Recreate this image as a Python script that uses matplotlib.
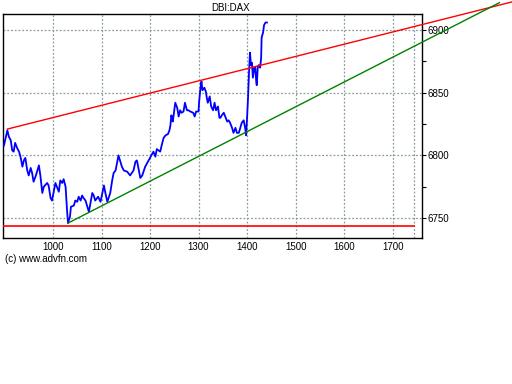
import matplotlib
matplotlib.use('Agg')
import matplotlib.pyplot as plt
import numpy as np
from matplotlib.ticker import MultipleLocator

# price series (bar index, price)
bar_index = [899, 906, 909, 913, 916, 919, 922, 926, 930, 933, 937, 940, 943, 947, 950,
             954, 957, 960, 964, 968, 971, 974, 978, 981, 988, 991, 995, 998, 1002, 1005,
             1009, 1012, 1015, 1019, 1022, 1026, 1029, 1031, 1035, 1037, 1043, 1046, 1050,
             1053, 1057, 1060, 1063, 1067, 1074, 1081, 1084, 1087, 1093, 1098, 1105, 1108,
             1112, 1118, 1122, 1125, 1129, 1132, 1135, 1139, 1142, 1146, 1153, 1159, 1166,
             1170, 1173, 1177, 1180, 1184, 1190, 1197, 1201, 1207, 1211, 1214, 1221, 1224,
             1228, 1232, 1237, 1240, 1242, 1244, 1246, 1247, 1252, 1256, 1259, 1262, 1265,
             1269, 1272, 1276, 1279, 1283, 1289, 1292, 1295, 1300, 1301, 1304, 1306, 1308,
             1312, 1315, 1317, 1319, 1323, 1326, 1330, 1333, 1336, 1340, 1343, 1345, 1348,
             1352, 1355, 1359, 1362, 1365, 1369, 1372, 1376, 1379, 1383, 1386, 1389, 1393,
             1396, 1398, 1400, 1402, 1404, 1406, 1408, 1410, 1412, 1415, 1417, 1419, 1420,
             1422, 1424, 1427, 1429, 1430, 1433, 1435, 1438, 1441]
price = [6808, 6820, 6815, 6812, 6804, 6803, 6810, 6806, 6803, 6799, 6791, 6796, 6798, 6788, 6784,
         6790, 6786, 6779, 6783, 6788, 6792, 6784, 6770, 6775, 6778, 6776, 6766, 6764, 6772, 6778,
         6774, 6771, 6780, 6778, 6781, 6775, 6756, 6746, 6751, 6759, 6760, 6764, 6763,
         6767, 6764, 6768, 6766, 6764, 6755, 6770, 6768, 6764, 6767, 6763, 6776, 6770,
         6763, 6770, 6780, 6786, 6788, 6794, 6800, 6795, 6791, 6788, 6787, 6784, 6788,
         6795, 6796, 6788, 6782, 6784, 6791, 6796, 6799, 6803, 6799, 6805, 6803, 6808,
         6814, 6816, 6817, 6820, 6824, 6832, 6828, 6827, 6842, 6838, 6831, 6836, 6834,
         6835, 6842, 6836, 6836, 6835, 6834, 6831, 6835, 6835, 6842, 6854, 6859, 6852,
         6854, 6851, 6846, 6842, 6847, 6839, 6836, 6842, 6836, 6839, 6830, 6830, 6832,
         6834, 6831, 6827, 6828, 6826, 6822, 6818, 6822, 6818, 6818, 6822, 6826, 6828,
         6822, 6816, 6830, 6846, 6866, 6882, 6872, 6874, 6862, 6870, 6870, 6858, 6856,
         6870, 6872, 6870, 6878, 6894, 6898, 6904, 6906, 6906]

# trend lines drawn on the chart
resist_x = [906, 2000]
resist_y = [6821, 6927.7]
support_x = [1031, 1920]
support_y = [6746, 6921.8]
floor_level = 6743.6
last_bar = 1745

fig = plt.figure(figsize=(5.12, 3.84), dpi=100)
ax = fig.add_axes([3 / 512, 1 - 238 / 384, 419 / 512, 224 / 384])

grid_kw = dict(color='#8c9c9c', linestyle=(0, (1.5, 1.5)), linewidth=0.9)
ax.grid(True, **grid_kw)
ax.axvline(last_bar, **grid_kw)

ax.plot(bar_index, price, color='#0000ff', linewidth=1.3, zorder=3)
ax.plot(resist_x, resist_y, color='#ff0000', linewidth=1, clip_on=False, zorder=4)
ax.plot(support_x, support_y, color='#008000', linewidth=1, clip_on=False, zorder=4)
ax.plot([897, last_bar], [floor_level, floor_level], color='#ff0000', linewidth=1.2, zorder=4)

ax.set_xlim(897, 1760.5)
ax.set_ylim(6734.1, 6912.8)
ax.set_xticks(np.arange(1000, 1701, 100))
ax.yaxis.set_major_locator(MultipleLocator(50))
ax.yaxis.set_minor_locator(MultipleLocator(25))
ax.yaxis.tick_right()
ax.tick_params(axis='x', length=0, pad=3, labelsize=7)
ax.tick_params(axis='y', which='both', direction='out', length=3, width=0.8, pad=1, labelsize=7)
ax.yaxis.grid(True, which='minor', linestyle='none')
for lab in ax.get_xticklabels() + ax.get_yticklabels():
    lab.set_family('Liberation Sans')
for sp in ax.spines.values():
    sp.set_linewidth(1)

fig.text(231 / 512, 1 - 8 / 384, 'DBI:DAX', ha='center', va='center', fontsize=7,
         family='Liberation Sans')
fig.text(5 / 512, 1 - 259 / 384, '(c) www.advfn.com', ha='left', va='center', fontsize=7,
         family='Liberation Sans')

fig.savefig('out.png', dpi=100)
